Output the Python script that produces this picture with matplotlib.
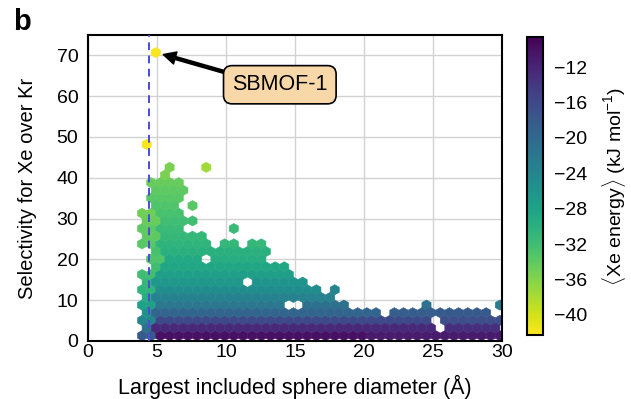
import numpy as np
import matplotlib
matplotlib.use("Agg")
import matplotlib.pyplot as plt

plt.rcParams['font.family'] = ['Liberation Sans', 'DejaVu Sans']
plt.rcParams['mathtext.fontset'] = 'custom'
plt.rcParams['mathtext.rm'] = 'Liberation Sans'

# hexbin grid used for the binning
grid_x = (3.25, 29.85)
grid_y = (1.3, 72.55)
grid_n = (40, 19)
hex_dx = (grid_x[1] - grid_x[0]) / grid_n[0]

# runs of occupied hex cells: selectivity row, first / last LCD (A), mean Xe energy (kJ/mol)
run_sel = [1.3, 1.3, 1.3,
           3.2, 3.2, 3.2,
           5.0, 5.0, 5.0,
           6.9, 6.9, 6.9, 6.9,
           8.8, 8.8, 8.8, 8.8, 8.8,
           10.7, 10.7,
           12.5, 12.5, 12.5,
           14.4, 14.4, 14.4,
           16.3, 16.3,
           18.2, 18.2,
           20.0, 20.0, 20.0,
           21.9, 21.9,
           23.8, 23.8, 23.8, 23.8,
           25.7, 25.7,
           27.5, 27.5, 27.5,
           29.4, 29.4,
           31.3, 31.3,
           33.2, 33.2,
           35.0, 36.9, 38.8,
           40.7, 42.5, 42.5,
           48.2, 70.7]
run_lcd_from = [3.92, 5.25, 20.54,
                4.25, 4.91, 26.19,
                3.92, 5.25, 25.86,
                4.25, 4.91, 22.20, 25.53,
                3.92, 5.25, 15.89, 24.53, 29.85,
                4.25, 4.91,
                3.92, 5.25, 17.88,
                4.25, 4.91, 12.23,
                3.92, 5.25,
                4.91, 5.58,
                4.58, 5.91, 9.24,
                4.91, 5.58,
                3.92, 5.25, 9.90, 11.90,
                4.25, 5.58,
                3.92, 5.25, 10.57,
                4.25, 5.58,
                3.92, 5.25,
                4.91, 7.57,
                4.58, 4.91, 4.58,
                5.58, 5.91, 8.57,
                4.25, 4.91]
run_lcd_to = [4.58, 19.88, 29.85,
              4.25, 24.86, 29.52,
              4.58, 24.53, 29.85,
              4.25, 20.87, 24.86, 28.85,
              4.58, 13.89, 18.55, 24.53, 29.85,
              4.25, 17.55,
              4.58, 16.55, 17.88,
              4.25, 10.90, 15.55,
              4.58, 14.56,
              4.91, 14.22,
              5.25, 7.91, 12.56,
              4.91, 12.89,
              4.58, 8.57, 10.57, 12.56,
              4.91, 8.24,
              4.58, 6.58, 10.57,
              4.91, 7.57,
              4.58, 6.58,
              6.24, 7.57,
              6.58, 6.91, 6.58,
              5.58, 5.91, 8.57,
              4.25, 4.91]
run_energy = [-18, -10, -11,
              -21, -12.5, -13,
              -24, -16, -16.5,
              -26, -19.5, -18.5, -18,
              -28, -22, -21, -21, -22.5,
              -29.5, -23.5,
              -30.5, -25, -24,
              -31, -26.5, -26,
              -32, -27.5,
              -32, -28.5,
              -33, -29, -29.5,
              -32.5, -30,
              -33.5, -30.5, -31, -31,
              -34, -31,
              -34, -31.5, -31.5,
              -34.5, -32,
              -35, -32.5,
              -33, -33.5,
              -33.5, -34, -34.5,
              -35.5, -35.5, -37.5,
              -42, -42]

sbmof_lcd = 4.4
xticks = [0, 5, 10, 15, 20, 25, 30]
yticks = [0, 10, 20, 30, 40, 50, 60, 70]
cticks = [-40, -36, -32, -28, -24, -20, -16, -12]

lcd, sel, energy = [], [], []
for s, lo, hi, e in zip(run_sel, run_lcd_from, run_lcd_to, run_energy):
    xs = np.arange(lo, hi + 0.1, hex_dx)
    lcd.extend(xs)
    sel.extend([s] * len(xs))
    energy.extend([e] * len(xs))

fig = plt.figure(figsize=(6.31, 3.99), dpi=100)
ax = fig.add_axes([0.1395, 0.1454, 0.656, 0.767])
cax = fig.add_axes([0.835, 0.160, 0.0254, 0.747])

hb = ax.hexbin(lcd, sel, C=energy, gridsize=grid_n,
               extent=(grid_x[0], grid_x[1], grid_y[0], grid_y[1]),
               reduce_C_function=np.mean, cmap='viridis_r',
               vmin=-42.3, vmax=-8.6, linewidths=0.4, edgecolors='face', zorder=2)

ax.axvline(sbmof_lcd, color='#4c4cd6', lw=1.4, ls=(0, (4, 2.8)), zorder=3)

ax.annotate('SBMOF-1', xy=(5.45, 70.2), xytext=(13.9, 62.8),
            fontsize=15.5, ha='center', va='center',
            bbox=dict(boxstyle='round,pad=0.4', fc='#f8d8a8', ec='black', lw=1.2),
            arrowprops=dict(facecolor='black', edgecolor='black', width=2.2,
                            headwidth=9, headlength=9, shrink=0.0),
            zorder=5)

ax.set_xlim(0, 30)
ax.set_ylim(0, 75)
ax.set_xticks(xticks)
ax.set_yticks(yticks)
ax.grid(True, color='#d2d2d2', lw=1)
ax.set_axisbelow(True)
ax.tick_params(labelsize=14, length=0)
ax.tick_params(axis='x', pad=2)
ax.tick_params(axis='y', pad=7)
for sp in ax.spines.values():
    sp.set_linewidth(1.5)
ax.set_xlabel('Largest included sphere diameter (Å)', fontsize=15.5, labelpad=10)
ax.set_ylabel('Selectivity for Xe over Kr', fontsize=14.5, labelpad=14)

cb = fig.colorbar(hb, cax=cax, ticks=cticks)
cb.outline.set_linewidth(1.5)
cb.ax.tick_params(labelsize=14, length=0, pad=8)
cb.set_label(r'$\langle$Xe energy$\rangle$ (kJ mol$^{-1}$)', fontsize=14, labelpad=9)

fig.text(0.02, 0.925, 'b', fontsize=21, fontweight='bold')

fig.savefig('out.png', dpi=100)
